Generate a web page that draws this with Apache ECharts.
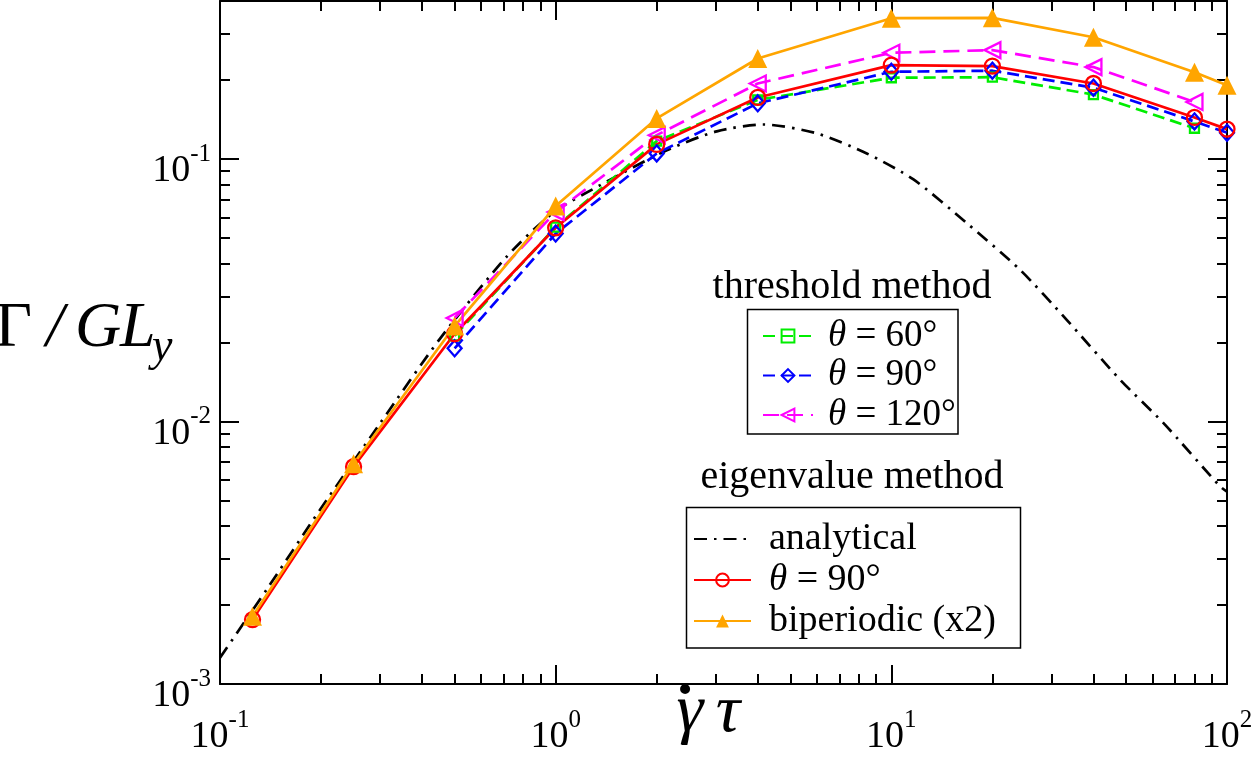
<!DOCTYPE html>
<html><head><meta charset="utf-8">
<script src="https://cdn.jsdelivr.net/npm/echarts@6/dist/echarts.min.js"></script>
<style>html,body{margin:0;padding:0;background:#fff}#c{width:1252px;height:760px}</style>
</head><body><div id="c"></div>
<script>
// ---- tick values ----
const xMajorTicks = [0.1, 1, 10, 100];
const xMinorTicks = [0.2,0.3,0.4,0.5,0.6,0.7,0.8,0.9,2,3,4,5,6,7,8,9,20,30,40,50,60,70,80,90];
const yMinorTicks = [0.002,0.003,0.004,0.005,0.006,0.007,0.008,0.009,0.02,0.03,0.04,0.05,0.06,0.07,0.08,0.09,0.2,0.3];

// ---- data ----
const xEigen = [0.125, 0.25, 0.5, 1, 2, 4, 10, 20, 40, 80, 100];
const yEig90 = [0.00176, 0.00673, 0.0216, 0.0547, 0.1137, 0.1716, 0.228, 0.226, 0.194, 0.144, 0.130];
const yBiperiodic = [0.00181, 0.0069, 0.0231, 0.0662, 0.1428, 0.2416, 0.344, 0.345, 0.291, 0.214, 0.191];

const xThr = [0.5, 1, 2, 4, 10, 20, 40, 80];
const yThr60 = [0.0212, 0.055, 0.117, 0.168, 0.204, 0.205, 0.176, 0.131];
const yThr120 = [0.0248, 0.0628, 0.1233, 0.194, 0.254, 0.260, 0.224, 0.165];
const xThr90 = [0.5, 1, 2, 4, 10, 20, 40, 80, 100];
const yThr90 = [0.019, 0.052, 0.105, 0.163, 0.215, 0.217, 0.187, 0.139, 0.126];

const xAnalytical = [0.1, 0.1377, 0.1986, 0.2998, 0.4525, 0.7149, 0.984, 1.357, 2.143, 3.02, 4.16, 6.0, 8.45, 11.64, 16.8, 24.2, 33.3, 48.1, 64.7, 95.5, 100];
const yAnalytical = [0.00126, 0.00229, 0.00461, 0.00984, 0.0207, 0.0425, 0.0625, 0.0795, 0.108, 0.1275, 0.1354, 0.1252, 0.105, 0.0836, 0.0569, 0.0378, 0.0244, 0.0144, 0.00986, 0.00565, 0.0054];

const legendText = {
  thr60: '{i|θ} = 60°', thr90: '{i|θ} = 90°', thr120: '{i|θ} = 120°',
  analytical: 'analytical', eig90: '{i|θ} = 90°', bip: 'biperiodic (x2)'
};

const zip = (xs, ys) => xs.map((x, i) => [x, ys[i]]);
const FONT = '"Liberation Serif", "Times New Roman", serif';
const Y_MIN = 0.001, Y_MAX = 0.4, X_MIN = 0.1, X_MAX = 100;

const labelRich = {
  b: {fontFamily: FONT, fontSize: 38, lineHeight: 40, color: '#000'},
  s: {fontFamily: FONT, fontSize: 25, lineHeight: 25, padding: [0, 0, 34, 0], color: '#000'}
};
function expFmt(v) {
  const e = Math.log10(v);
  if (Math.abs(e - Math.round(e)) > 1e-6) return '';
  return '{b|10}{s|' + Math.round(e) + '}';
}
function axisBase(extra) {
  return Object.assign({
    type: 'log', logBase: 10,
    splitLine: {show: false},
    axisLine: {show: false, onZero: false},
    axisLabel: {show: false},
    axisTick: {show: true, inside: true, length: 19, lineStyle: {color: '#000', width: 2}}
  }, extra);
}
const lineAxis = {show: true, onZero: false, lineStyle: {color: '#000', width: 2}};
const minorTick = {show: true, inside: true, length: 10, lineStyle: {color: '#000', width: 2}};

const xAxes = [
  axisBase({min: X_MIN, max: X_MAX, position: 'bottom', axisLine: lineAxis}),
  axisBase({min: X_MIN, max: X_MAX, position: 'bottom', axisTick: Object.assign({}, minorTick, {customValues: xMinorTicks})}),
  axisBase({min: X_MIN, max: X_MAX, position: 'top', axisLine: lineAxis}),
  axisBase({min: X_MIN, max: X_MAX, position: 'top', axisTick: Object.assign({}, minorTick, {customValues: xMinorTicks})})
];
const yAxes = [
  axisBase({min: Y_MIN, max: Y_MAX, position: 'left', axisLine: lineAxis,
    axisLabel: {show: true, margin: 9, formatter: expFmt, rich: labelRich, padding: [24, 0, 0, 0]}}),
  axisBase({min: Y_MIN, max: Y_MAX, position: 'left', axisTick: Object.assign({}, minorTick, {customValues: yMinorTicks})}),
  axisBase({min: Y_MIN, max: Y_MAX, position: 'right', axisLine: lineAxis}),
  axisBase({min: Y_MIN, max: Y_MAX, position: 'right', axisTick: Object.assign({}, minorTick, {customValues: yMinorTicks})})
];

function hollow(color) { return {color: 'rgba(0,0,0,0)', borderColor: color, borderWidth: 2.3}; }

const series = [
  {name: 'analytical', type: 'line', data: zip(xAnalytical, yAnalytical), symbol: 'none', smooth: 0.25,
   lineStyle: {color: '#000', width: 2.7, type: [13, 7, 2.5, 7]}, itemStyle: {color: '#000'}},
  {name: 'thr60', type: 'line', data: zip(xThr, yThr60), symbol: 'rect', symbolSize: 9,
   lineStyle: {color: '#00ee00', width: 2.7, type: [12, 6]}, itemStyle: hollow('#00ee00')},
  {name: 'thr90', type: 'line', data: zip(xThr90, yThr90), symbol: 'diamond', symbolSize: [14, 16],
   lineStyle: {color: '#0000ff', width: 2.7, type: [12, 6]}, itemStyle: hollow('#0000ff')},
  {name: 'thr120', type: 'line', data: zip(xThr, yThr120), symbol: 'triangle', symbolRotate: 90, symbolSize: 16,
   lineStyle: {color: '#ff00ff', width: 2.7, type: [16, 8]}, itemStyle: hollow('#ff00ff')},
  {name: 'eig90', type: 'line', data: zip(xEigen, yEig90), symbol: 'circle', symbolSize: 15,
   lineStyle: {color: '#ff0000', width: 2.7}, itemStyle: hollow('#ff0000')},
  {name: 'bip', type: 'line', data: zip(xEigen, yBiperiodic), symbol: 'triangle', symbolSize: 19,
   lineStyle: {color: '#ffa500', width: 2.7}, itemStyle: {color: '#ffa500'}}
];
series.forEach(s => { s.clip = false; s.z = 3; });

const legendTextStyle = {fontFamily: FONT, fontSize: 37, color: '#000', lineHeight: 38,
  rich: {i: {fontFamily: FONT, fontSize: 37, fontStyle: 'italic', color: '#000', lineHeight: 38}}};

function txt(x, y, text, font, align) {
  return {type: 'text', x: x, y: y, silent: true,
    style: {text: text, font: font, fill: '#000', align: align || 'center', verticalAlign: 'middle'}};
}

const staticGraphics = [
  {type: 'rect', shape: {x: 747.5, y: 309.5, width: 210.5, height: 124.5},
   style: {fill: 'none', stroke: '#000', lineWidth: 1.5}, silent: true},
  {type: 'rect', shape: {x: 686.5, y: 507.5, width: 334, height: 140.5},
   style: {fill: 'none', stroke: '#000', lineWidth: 1.5}, silent: true},
  txt(852, 287, 'threshold method', '40px ' + FONT),
  txt(852, 477, 'eigenvalue method', '40px ' + FONT),
  // x-axis title: γ̇τ
  txt(690, 713, 'γ', 'italic 68px ' + FONT),
  txt(728, 713, 'τ', 'italic 68px ' + FONT),
  txt(685, 693, '·', 'bold 62px ' + FONT),
  // y-axis title: Γ/GL_y
  txt(-5, 329, 'Γ', '64px ' + FONT, 'left'),
  txt(55, 329, '/', 'italic 64px ' + FONT),
  txt(75, 329, 'G', 'italic 64px ' + FONT, 'left'),
  txt(120, 329, 'L', 'italic 64px ' + FONT, 'left'),
  txt(152, 348, 'y', 'italic 46px ' + FONT, 'left')
];

const option = {
  animation: false,
  backgroundColor: '#fff',
  grid: {left: 220, right: 25, top: 1, bottom: 76, containLabel: false, outerBoundsMode: 'none'},
  xAxis: xAxes,
  yAxis: yAxes,
  legend: [
    {data: ['thr60', 'thr90', 'thr120'], orient: 'vertical', left: 762, top: 317, padding: 0,
     itemWidth: 50, itemHeight: 16, itemGap: 1.5, selectedMode: false,
     formatter: n => legendText[n], textStyle: Object.assign({}, legendTextStyle, {padding: [0, 0, 0, 10]})},
    {data: [{name: 'analytical', itemStyle: {opacity: 0}}, 'eig90', 'bip'], orient: 'vertical', left: 693, top: 520, padding: 0,
     itemWidth: 57, itemHeight: 16, itemGap: 3, selectedMode: false,
     formatter: n => legendText[n], textStyle: Object.assign({}, legendTextStyle, {fontSize: 38, padding: [0, 0, 0, 13]})}
  ],
  series: series,
  graphic: staticGraphics
};
const chart = echarts.init(document.getElementById('c'), null, {renderer: 'canvas'});
chart.setOption(option);

// x-axis tick labels, placed through the axis scale
const axisY = chart.convertToPixel({yAxisIndex: 0}, Y_MIN);
const xLabelGraphics = xMajorTicks.map(v => ({
  type: 'text', silent: true,
  x: chart.convertToPixel({xAxisIndex: 0}, v),
  y: axisY + 53,
  style: {text: expFmt(v), rich: labelRich, fill: '#000', align: 'center', verticalAlign: 'middle'}
}));
chart.setOption({graphic: staticGraphics.concat(xLabelGraphics)});
</script>
</body></html>
